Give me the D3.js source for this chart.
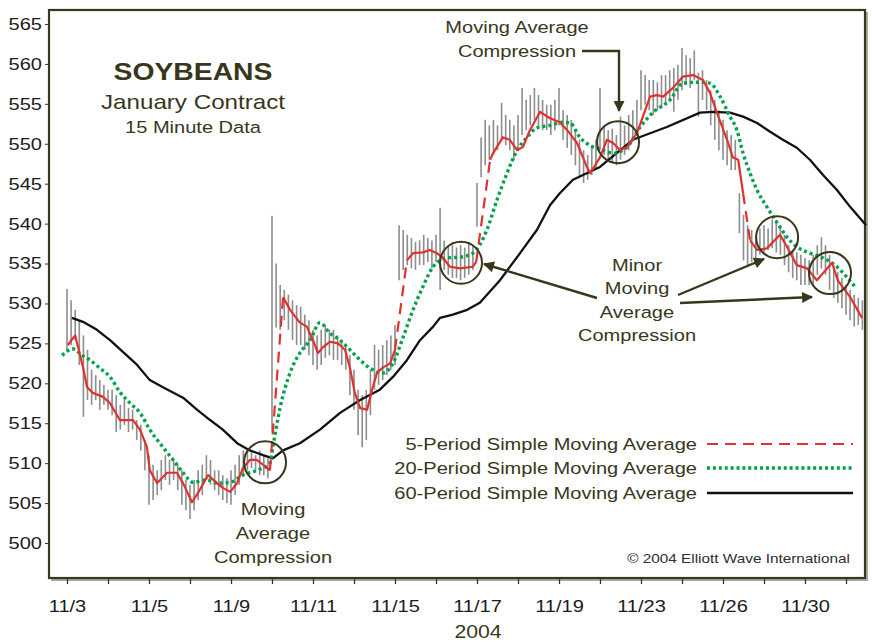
<!DOCTYPE html>
<html>
<head>
<meta charset="utf-8">
<script src="https://cdn.jsdelivr.net/npm/d3@7"></script>
<style>
  body { margin: 0; background: #fff; }
  svg text { font-family: "Liberation Sans", Arial, Helvetica, sans-serif; }
</style>
</head>
<body>
<svg id="chart" width="872" height="643"></svg>
<script>
// trading days on the x axis (labels every other tick)
const dayLabels = ["11/3", "11/4", "11/5", "11/8", "11/9", "11/10", "11/11", "11/12", "11/15", "11/16",
    "11/17", "11/18", "11/19", "11/22", "11/23", "11/24", "11/26", "11/29", "11/30", "12/1"];
const priceTicks = [500, 505, 510, 515, 520, 525, 530, 535, 540, 545, 550, 555, 560, 565];

// 15 minute bars (high / low)
const barHigh = [
    531.8, 530.4, 529.2, 527.9, 526.0, 524.2, 521.7, 521.0, 520.4, 519.8,
    519.2, 519.2, 518.5, 517.3, 517.9, 516.9, 516.7, 515.4, 514.8, 512.9,
    511.0, 509.8, 509.1, 510.4, 511.0, 510.4, 510.4, 509.8, 509.1, 507.9,
    507.3, 507.9, 509.1, 509.8, 511.0, 510.4, 509.1, 509.1, 508.5, 508.1,
    509.1, 509.8, 511.0, 511.6, 511.6, 511.4, 511.0, 511.6, 511.0, 510.6,
    541.0, 535.0, 532.3, 531.7, 531.1, 530.4, 529.8, 529.6, 528.6, 527.9,
    526.7, 526.0, 526.7, 527.3, 526.7, 526.7, 526.0, 525.4, 524.8, 523.5,
    521.7, 519.2, 518.5, 519.2, 521.7, 524.8, 524.2, 524.8, 525.4, 526.0,
    527.3, 539.8, 539.2, 538.6, 538.2, 537.7, 537.9, 538.6, 538.2, 537.9,
    538.6, 542.0, 537.9, 537.3, 537.3, 537.0, 537.3, 537.0, 537.7, 537.3,
    545.1, 550.8, 553.0, 552.3, 553.0, 552.3, 555.1, 553.6, 553.0, 552.3,
    553.6, 557.0, 555.5, 556.1, 557.0, 556.1, 555.5, 554.9, 554.9, 555.5,
    557.0, 554.2, 553.6, 553.0, 551.7, 550.5, 549.2, 548.6, 549.8, 550.5,
    557.0, 552.3, 551.7, 551.9, 551.1, 553.4, 552.3, 553.6, 554.2, 555.5,
    559.2, 558.6, 558.0, 558.0, 557.7, 558.6, 558.6, 559.2, 559.5, 559.9,
    562.0, 561.1, 560.7, 561.7, 558.9, 559.2, 558.0, 556.7, 555.5, 554.2,
    553.0, 551.7, 551.1, 550.5, 543.8, 541.1, 539.8, 539.2, 538.6, 539.4,
    539.8, 539.4, 540.5, 540.5, 539.8, 538.6, 537.3, 536.7, 536.4, 536.1,
    535.7, 535.4, 536.1, 537.3, 538.3, 537.3, 536.1, 534.8, 533.9, 533.2,
    532.3, 531.7, 531.1, 530.7, 530.4
];
const barLow = [
    524.0, 524.8, 525.4, 522.3, 515.8, 517.9, 517.3, 517.9, 516.7, 517.3,
    516.7, 516.0, 513.9, 514.2, 514.8, 513.9, 514.2, 512.9, 511.6, 509.1,
    504.8, 505.4, 506.0, 506.6, 507.9, 507.3, 507.9, 506.6, 504.8, 504.1,
    503.0, 504.1, 505.4, 506.0, 507.9, 507.3, 506.6, 506.0, 505.4, 505.0,
    504.8, 506.0, 507.3, 508.5, 509.1, 509.4, 509.1, 508.5, 508.5, 508.1,
    514.0, 527.0, 526.7, 527.9, 526.7, 525.4, 524.8, 524.8, 524.2, 523.5,
    522.3, 521.7, 522.3, 523.2, 523.5, 522.9, 522.9, 522.3, 521.7, 518.5,
    516.7, 513.5, 512.0, 512.9, 516.0, 519.2, 519.8, 520.4, 521.0, 521.7,
    522.3, 532.9, 534.2, 534.8, 534.4, 534.2, 534.8, 534.8, 535.2, 534.4,
    535.2, 531.7, 534.2, 533.6, 533.2, 533.2, 532.9, 533.2, 533.6, 534.2,
    539.6, 545.8, 547.3, 548.0, 548.6, 549.2, 550.5, 549.8, 549.2, 548.0,
    549.2, 551.1, 551.7, 552.3, 553.0, 552.3, 551.7, 551.7, 551.1, 551.7,
    552.3, 550.5, 549.5, 548.6, 547.3, 545.7, 545.1, 545.5, 546.1, 546.7,
    549.2, 548.6, 548.0, 547.7, 547.3, 548.0, 548.6, 549.2, 550.5, 551.1,
    554.2, 554.9, 554.2, 553.6, 554.2, 554.5, 554.9, 555.5, 554.0, 555.5,
    556.7, 557.4, 557.0, 558.0, 553.4, 555.5, 554.2, 552.3, 550.5, 549.2,
    548.0, 547.3, 546.7, 546.7, 538.8, 535.4, 534.8, 535.2, 534.8, 536.1,
    536.4, 536.7, 536.9, 536.4, 536.1, 534.8, 533.9, 533.2, 532.9, 532.3,
    532.3, 532.3, 532.3, 533.6, 534.4, 533.6, 531.7, 530.7, 530.1, 529.4,
    528.6, 527.9, 527.1, 527.3, 526.7
];

// moving averages as [trading day, price]
const ma5 = [[0.02, 524.8], [0.20, 526.0], [0.39, 522.0], [0.49, 519.5], [0.63, 518.8], [0.88, 518.3], [1.05, 517.5],
    [1.29, 515.4], [1.61, 515.4], [1.78, 514.2], [1.95, 512.0], [2.02, 509.1], [2.20, 507.5], [2.44, 508.8], [2.68, 508.8],
    [2.83, 507.5], [3.05, 505.1], [3.20, 506.3], [3.44, 508.5], [3.66, 507.5], [3.80, 506.9], [3.98, 506.4], [4.15, 507.5],
    [4.29, 509.4], [4.46, 510.4], [4.63, 510.4], [4.78, 509.8], [4.95, 509.1], [5.27, 530.8], [5.44, 529.2], [5.68, 527.6],
    [5.85, 527.1], [6.00, 525.4], [6.12, 523.8], [6.24, 524.5], [6.41, 525.2], [6.61, 525.0], [6.78, 524.2], [6.90, 522.0],
    [7.02, 518.8], [7.15, 516.9], [7.32, 516.7], [7.44, 519.2], [7.56, 521.3], [7.71, 522.0], [7.88, 522.5], [8.00, 524.2],
    [8.29, 535.4], [8.44, 536.3], [8.68, 536.4], [8.85, 536.7], [9.02, 536.3], [9.17, 535.7], [9.34, 534.6], [9.59, 534.4],
    [9.90, 534.6], [9.98, 535.2], [10.32, 548.0], [10.39, 548.8], [10.63, 550.8], [10.80, 550.5], [10.98, 549.2], [11.12, 549.6],
    [11.29, 551.7], [11.54, 554.0], [11.78, 553.2], [12.02, 552.7], [12.20, 551.7], [12.44, 550.1], [12.68, 547.1], [12.76, 546.3],
    [13.00, 548.3], [13.17, 550.5], [13.32, 550.1], [13.49, 549.2], [13.66, 549.6], [13.90, 551.3], [14.22, 555.9], [14.39, 556.1],
    [14.54, 555.9], [14.78, 557.0], [15.02, 558.4], [15.27, 558.6], [15.51, 558.0], [15.68, 556.4], [15.85, 553.9], [16.10, 550.5],
    [16.24, 548.3], [16.37, 548.0], [16.49, 543.8], [16.66, 537.9], [16.83, 536.7], [17.07, 536.9], [17.39, 538.6], [17.56, 537.1],
    [17.80, 534.8], [18.05, 534.4], [18.29, 532.9], [18.44, 533.8], [18.66, 535.1], [18.80, 532.9], [19.10, 530.8], [19.39, 528.2]];
const ma20 = [[-0.12, 523.5], [0.15, 524.3], [0.37, 523.5], [0.56, 522.9], [0.80, 521.9], [1.05, 520.8], [1.29, 518.9],
    [1.54, 517.5], [1.78, 516.3], [2.02, 514.2], [2.34, 512.0], [2.59, 510.4], [2.83, 508.8], [3.07, 507.6], [3.41, 507.9],
    [3.66, 507.5], [3.98, 507.6], [4.29, 508.5], [4.63, 509.1], [4.95, 510.0], [5.02, 512.0], [5.20, 517.0], [5.44, 521.3],
    [5.68, 523.8], [5.93, 525.4], [6.17, 527.6], [6.41, 526.3], [6.66, 525.4], [6.90, 524.2], [7.15, 522.9], [7.39, 521.9],
    [7.71, 521.3], [7.95, 522.5], [8.20, 525.8], [8.44, 529.2], [8.68, 532.1], [8.93, 534.6], [9.27, 535.7], [9.59, 535.8],
    [9.90, 536.3], [10.24, 539.2], [10.49, 543.0], [10.73, 546.3], [10.98, 549.2], [11.22, 550.8], [11.46, 552.0], [11.78, 552.3],
    [12.10, 552.7], [12.27, 552.6], [12.51, 550.8], [12.83, 549.6], [13.07, 549.2], [13.32, 548.8], [13.66, 549.6], [13.98, 552.1],
    [14.29, 553.9], [14.71, 555.5], [15.02, 557.6], [15.37, 557.7], [15.68, 557.6], [15.93, 555.9], [16.17, 553.4], [16.34, 551.7],
    [16.49, 548.8], [16.66, 546.3], [16.83, 544.2], [17.07, 542.1], [17.32, 540.1], [17.56, 538.3], [17.80, 537.1], [18.12, 536.3],
    [18.44, 535.7], [18.78, 534.6], [19.02, 533.3], [19.22, 532.1]];
const ma60 = [[0.12, 528.2], [0.39, 527.7], [0.73, 526.7], [1.05, 525.4], [1.37, 523.9], [1.71, 522.3], [2.02, 520.4],
    [2.34, 519.5], [2.83, 518.2], [3.17, 516.7], [3.49, 515.4], [3.80, 514.2], [4.15, 512.5], [4.46, 511.6], [4.78, 511.0],
    [5.02, 510.6], [5.27, 511.6], [5.68, 512.5], [6.17, 514.2], [6.66, 516.3], [7.15, 517.9], [7.63, 519.2], [7.95, 520.8],
    [8.29, 522.9], [8.61, 525.4], [8.93, 527.1], [9.10, 528.2], [9.41, 528.6], [9.76, 529.2], [10.07, 530.1], [10.56, 532.9],
    [11.05, 536.3], [11.46, 539.2], [11.78, 542.3], [12.02, 543.8], [12.34, 545.5], [13.00, 547.1], [13.80, 550.5], [14.63, 552.1],
    [15.44, 553.9], [15.76, 554.0], [16.17, 553.9], [16.49, 553.4], [16.83, 552.6], [17.15, 551.5], [17.46, 550.5], [17.80, 549.5],
    [18.12, 548.0], [18.44, 546.1], [18.78, 544.2], [19.10, 542.1], [19.49, 539.8]];

// compression circles [trading day, price]
const circleSpots = [[4.83, 510.1], [9.61, 535.1], [13.44, 550.2], [17.32, 538.3], [18.61, 533.8]];

const legendLabels = ["5-Period Simple Moving Average", "20-Period Simple Moving Average", "60-Period Simple Moving Average"];

// ----------------------------------------------------------
const olive = "#39371b";
const SX = 1.18;   // the source picture is stretched sideways
const barStep = 0.1;

const svg = d3.select("#chart");

const x = d3.scaleLinear().domain([0, 19]).range([67, 846]);
const y = d3.scaleLinear().domain([500, 565]).range([543, 24]);

function stretch(sel) {
    sel.each(function () {
        const t = d3.select(this);
        const tx = +t.attr("x") || 0, ty = +t.attr("y") || 0;
        t.attr("x", null).attr("y", null)
            .attr("transform", `translate(${tx},${ty}) scale(${SX},1)`);
    });
}
function label(txt, px, py, size, anchor, weight, fill) {
    return svg.append("text")
        .attr("x", px).attr("y", py)
        .attr("font-size", size)
        .attr("font-weight", weight || "normal")
        .attr("text-anchor", anchor || "middle")
        .attr("fill", fill || olive)
        .text(txt)
        .call(stretch);
}

svg.append("defs").append("marker")
    .attr("id", "head")
    .attr("viewBox", "0 0 10 10")
    .attr("refX", 9).attr("refY", 5)
    .attr("markerUnits", "userSpaceOnUse")
    .attr("markerWidth", 13).attr("markerHeight", 11)
    .attr("orient", "auto")
    .append("path").attr("d", "M0,0 L10,5 L0,10 z").attr("fill", olive);

// frame with a slight shadow
svg.append("path").attr("d", "M867,12 V580 H51")
    .attr("fill", "none").attr("stroke", "#a9a9a0").attr("stroke-width", 2);
svg.append("rect").attr("x", 49).attr("y", 10).attr("width", 816).attr("height", 568)
    .attr("fill", "#fff").attr("stroke", olive).attr("stroke-width", 2.2);

// axes
const yAxis = svg.append("g").attr("transform", "translate(48,0)")
    .call(d3.axisLeft(y).tickValues(priceTicks).tickSize(3).tickPadding(3));
yAxis.select(".domain").remove();
yAxis.attr("font-size", 17).attr("font-family", null);
yAxis.selectAll("line").attr("stroke", olive);
yAxis.selectAll("text").attr("fill", "#1c1c1c").call(stretch);

const xAxis = svg.append("g").attr("transform", "translate(0,578)")
    .call(d3.axisBottom(x).tickValues(dayLabels.map((d, i) => i))
        .tickFormat(i => i % 2 === 0 ? dayLabels[i] : "")
        .tickSize(6).tickPadding(16));
xAxis.select(".domain").remove();
xAxis.attr("font-size", 17).attr("font-family", null);
xAxis.selectAll("line").attr("stroke", olive).attr("stroke-width", 1.3);
xAxis.selectAll("text").attr("fill", "#1c1c1c").call(stretch);

label("2004", 478, 638, 18, "middle", "normal", olive);

// price bars
svg.append("g").selectAll("line")
    .data(barHigh)
    .join("line")
    .attr("x1", (d, i) => x(i * barStep))
    .attr("x2", (d, i) => x(i * barStep))
    .attr("y1", d => y(d))
    .attr("y2", (d, i) => y(barLow[i]))
    .attr("stroke", "#8d8d8d")
    .attr("stroke-width", 1.6);

const line = d3.line().x(d => x(d[0])).y(d => y(d[1]));

// 60 period
svg.append("path").datum(ma60)
    .attr("d", line)
    .attr("fill", "none").attr("stroke", "#111").attr("stroke-width", 2.3)
    .attr("stroke-linejoin", "round");

// 20 period
svg.append("path").datum(ma20)
    .attr("d", line.curve(d3.curveMonotoneX))
    .attr("fill", "none").attr("stroke", "#00a14b").attr("stroke-width", 3.4)
    .attr("stroke-dasharray", "3,3");
line.curve(d3.curveLinear);

// 5 period: solid where it moves bar by bar, dashed across the jumps
const solidRuns = [];
const jumps = [];
let run = [ma5[0]];
for (let i = 1; i < ma5.length; i++) {
    const a = ma5[i - 1], b = ma5[i];
    const len = Math.hypot(x(b[0]) - x(a[0]), y(b[1]) - y(a[1]));
    if (len > 42) {
        if (run.length > 1) solidRuns.push(run);
        jumps.push([a, b]);
        run = [b];
    } else {
        run.push(b);
    }
}
if (run.length > 1) solidRuns.push(run);

svg.append("g").selectAll("path")
    .data(solidRuns)
    .join("path")
    .attr("d", line)
    .attr("fill", "none").attr("stroke", "#e0322c").attr("stroke-width", 2.2)
    .attr("stroke-linejoin", "round");
svg.append("g").selectAll("path")
    .data(jumps)
    .join("path")
    .attr("d", line)
    .attr("fill", "none").attr("stroke", "#e0322c").attr("stroke-width", 2.2)
    .attr("stroke-dasharray", "11,7");

// compression circles
svg.append("g").selectAll("circle")
    .data(circleSpots)
    .join("circle")
    .attr("cx", d => x(d[0]))
    .attr("cy", d => y(d[1]))
    .attr("r", 21)
    .attr("fill", "none").attr("stroke", olive).attr("stroke-width", 2);

// titles
label("SOYBEANS", 193, 80, 24, "middle", "bold", olive);
label("January Contract", 193, 109, 20.5, "middle", "normal", olive);
label("15 Minute Data", 193, 133, 17, "middle", "normal", olive);

// annotations
label("Moving", 273, 515, 17);
label("Average", 273, 539, 17);
label("Compression", 273, 563, 17);

label("Moving Average", 517, 33, 17);
label("Compression", 517, 57, 17);
svg.append("path").attr("d", "M582,51 H619 V111")
    .attr("fill", "none").attr("stroke", olive).attr("stroke-width", 2.4)
    .attr("marker-end", "url(#head)");

label("Minor", 637, 271, 17);
label("Moving", 637, 294, 17);
label("Average", 637, 318, 17);
label("Compression", 637, 341, 17);
const arrows = [[597, 298, 484, 264], [678, 295, 764, 259], [680, 303, 812, 297]];
svg.append("g").selectAll("line")
    .data(arrows)
    .join("line")
    .attr("x1", d => d[0]).attr("y1", d => d[1])
    .attr("x2", d => d[2]).attr("y2", d => d[3])
    .attr("stroke", olive).attr("stroke-width", 2.4)
    .attr("marker-end", "url(#head)");

// legend
const legendStyles = [
    { stroke: "#e0322c", width: 2.2, dash: "11,7" },
    { stroke: "#00a14b", width: 3.4, dash: "3,2.9" },
    { stroke: "#111", width: 2.3, dash: null }
];
const legendY = [444, 468, 493];
legendLabels.forEach((t, i) => {
    label(t, 697, legendY[i] + 6, 17, "end");
    svg.append("line")
        .attr("x1", 707).attr("x2", 853)
        .attr("y1", legendY[i]).attr("y2", legendY[i])
        .attr("stroke", legendStyles[i].stroke)
        .attr("stroke-width", legendStyles[i].width)
        .attr("stroke-dasharray", legendStyles[i].dash);
});

label("\u00a9 2004 Elliott Wave International", 850, 563, 13, "end", "normal", "#2e2e2e");
</script>
</body>
</html>
